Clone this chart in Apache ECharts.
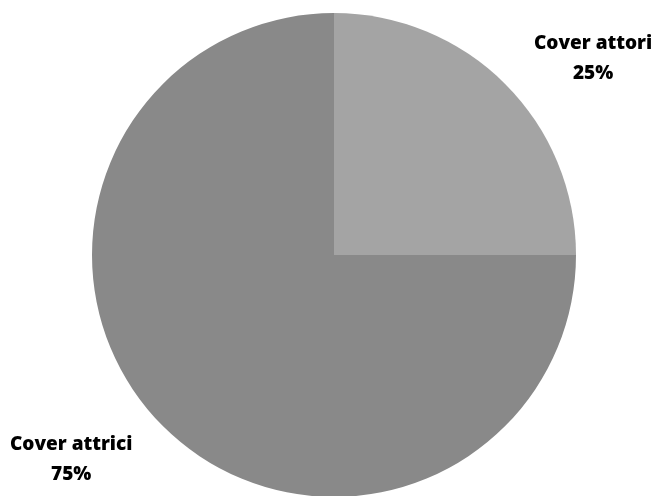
<!DOCTYPE html>
<html><head><meta charset="utf-8">
<script src="https://cdn.jsdelivr.net/npm/echarts@6/dist/echarts.min.js"></script>
<style>html,body{margin:0;padding:0;background:#fff}#c{width:656px;height:496px}</style>
</head><body><div id="c"></div>
<script>
const categories = ['Cover attori', 'Cover attrici'];
const values = [25, 75];
const colors = ['#a4a4a4', '#898989'];

const chart = echarts.init(document.getElementById('c'));
const font = {fontFamily: 'Open Sans', fontWeight: 800, fontSize: 19, fill: '#000', lineHeight: 30, textAlign: 'center'};
chart.setOption({
  backgroundColor: '#fff',
  animation: false,
  series: [{
    type: 'pie',
    center: [334, 255],
    radius: 242,
    startAngle: 90,
    clockwise: true,
    label: {show: false},
    labelLine: {show: false},
    itemStyle: {borderWidth: 0},
    emphasis: {disabled: true},
    data: categories.map((c, i) => ({name: c, value: values[i], itemStyle: {color: colors[i]}}))
  }],
  graphic: [
    {type: 'text', left: 534, top: 29, style: Object.assign({}, font, {text: categories[0] + '\n' + values[0] + '%'})},
    {type: 'text', left: 10, top: 430, style: Object.assign({}, font, {text: categories[1] + '\n' + values[1] + '%'})}
  ]
});
</script></body></html>
